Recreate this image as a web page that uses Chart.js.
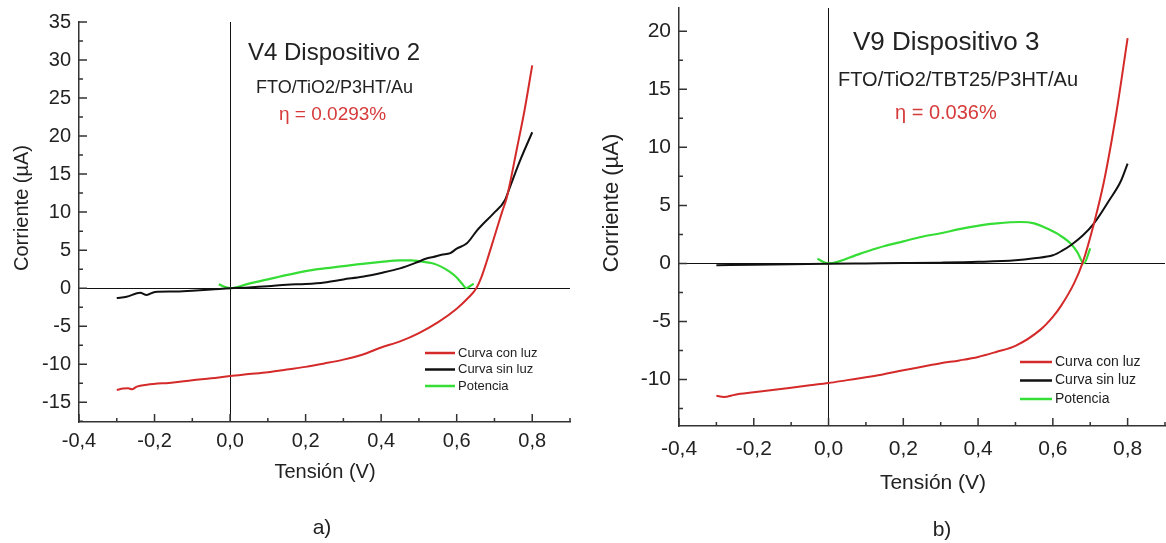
<!DOCTYPE html>
<html><head><meta charset="utf-8">
<script src="https://cdn.jsdelivr.net/npm/chart.js@4.4.1/dist/chart.umd.min.js"></script>
<style>
html,body{margin:0;padding:0;background:#fff;width:1166px;height:543px;overflow:hidden}
canvas{position:absolute;top:0}
</style></head><body>
<canvas id="ca" width="583" height="543" style="left:0"></canvas>
<canvas id="cb" width="583" height="543" style="left:583px"></canvas>
<script>
// ---------- DATA ----------
const seriesNames = ['Curva con luz', 'Curva sin luz', 'Potencia'];

// Panel a) V4 Dispositivo 2
const aLuzV = [-0.30,-0.283,-0.27,-0.26,-0.247,-0.22,-0.15,-0.10,-0.05,0.00,0.05,0.10,0.15,0.20,0.25,0.30,0.35,0.40,0.45,0.50,0.55,0.60,0.63,0.652,0.665,0.68,0.70,0.72,0.733,0.76,0.78,0.80];
const aLuzI = [-13.4,-13.2,-13.15,-13.3,-12.95,-12.7,-12.4,-12.1,-11.85,-11.55,-11.3,-11.05,-10.7,-10.35,-9.9,-9.4,-8.75,-7.8,-7.0,-5.9,-4.5,-2.7,-1.3,0.0,1.4,3.6,6.8,10.0,12.0,18.5,23.5,29.3];
const aSinV = [-0.30,-0.274,-0.238,-0.221,-0.199,-0.15,-0.10,-0.05,0.00,0.05,0.10,0.15,0.20,0.25,0.30,0.35,0.40,0.45,0.495,0.52,0.538,0.56,0.583,0.60,0.627,0.654,0.667,0.697,0.728,0.741,0.768,0.80];
const aSinI = [-1.3,-1.14,-0.6,-0.9,-0.5,-0.45,-0.33,-0.18,0.0,0.1,0.25,0.45,0.55,0.75,1.15,1.5,2.0,2.6,3.4,3.9,4.1,4.4,4.6,5.2,5.9,7.6,8.3,9.8,11.6,13.3,16.8,20.5];
const aPotV = [-0.03,0.00,0.05,0.10,0.13,0.20,0.25,0.30,0.35,0.40,0.45,0.48,0.50,0.538,0.56,0.583,0.60,0.614,0.625,0.645];
const aPotP = [0.5,0.0,0.6,1.15,1.5,2.25,2.6,2.9,3.2,3.45,3.65,3.65,3.55,3.25,2.8,2.1,1.4,0.6,0.0,0.6];

// Panel b) V9 Dispositivo 3
const bLuzV = [-0.30,-0.28,-0.25,-0.20,-0.15,-0.10,-0.05,0.00,0.05,0.10,0.138,0.20,0.25,0.30,0.35,0.40,0.45,0.50,0.567,0.60,0.621,0.657,0.679,0.71,0.737,0.77,0.80];
const bLuzI = [-11.4,-11.5,-11.3,-11.1,-10.9,-10.7,-10.5,-10.3,-10.05,-9.8,-9.6,-9.2,-8.9,-8.6,-8.35,-8.05,-7.6,-7.1,-5.7,-4.6,-3.7,-1.7,0.0,3.45,7.1,13.0,19.4];
const bSinV = [-0.30,-0.20,-0.10,0.00,0.10,0.20,0.30,0.40,0.50,0.55,0.60,0.625,0.648,0.68,0.71,0.75,0.782,0.80];
const bSinI = [-0.15,-0.12,-0.08,-0.03,0.0,0.03,0.07,0.14,0.28,0.45,0.7,1.1,1.57,2.4,3.45,5.4,7.1,8.6];
const bPotV = [-0.03,0.00,0.085,0.15,0.20,0.25,0.30,0.35,0.406,0.45,0.514,0.55,0.585,0.62,0.648,0.665,0.683,0.70];
const bPotP = [0.4,0.0,0.85,1.5,1.9,2.3,2.6,2.95,3.28,3.45,3.57,3.45,3.0,2.4,1.7,1.0,0.0,1.3];

const panelA = {title:'V4 Dispositivo 2', stack:'FTO/TiO2/P3HT/Au', eff:'η = 0.0293%', tag:'a)'};
const panelB = {title:'V9 Dispositivo 3', stack:'FTO/TiO2/TBT25/P3HT/Au', eff:'η = 0.036%', tag:'b)'};
const xTitle = 'Tensión (V)';
const yTitle = 'Corriente (µA)';

// ---------- STYLE ----------
const COL = {luz:'#d42a2a', sin:'#111111', pot:'#35dd35', axis:'#333333', text:'#222222', eff:'#d63a3a'};
const FONT = '"Liberation Sans", Arial, sans-serif';
Chart.defaults.font.family = FONT;
Chart.defaults.color = COL.text;

function pts(V, I){ return V.map((v,i)=>({x:v, y:I[i]})); }

const innerTicks = {
  id:'innerTicks',
  afterDatasetsDraw(chart){
    const {ctx, chartArea:a, scales:{x,y}} = chart;
    ctx.save(); ctx.strokeStyle = COL.axis; ctx.lineWidth = 1.5; ctx.beginPath();
    const doAxis = (sc, horiz) => {
      const v = sc.ticks.map(t=>t.value); const step = v[1]-v[0];
      v.forEach(val => { const p = sc.getPixelForValue(val);
        if (horiz){ ctx.moveTo(p, a.bottom); ctx.lineTo(p, a.bottom-8); }
        else { ctx.moveTo(a.left, p); ctx.lineTo(a.left+8, p); } });
      for (let k=-1; k<v.length; k++){
        const m = v[0] + (k+0.5)*step;
        if (m < sc.min-1e-9 || m > sc.max+1e-9) continue;
        const p = sc.getPixelForValue(m);
        if (horiz){ ctx.moveTo(p, a.bottom); ctx.lineTo(p, a.bottom-4); }
        else { ctx.moveTo(a.left, p); ctx.lineTo(a.left+4, p); }
      }
    };
    doAxis(x, true); doAxis(y, false);
    ctx.stroke(); ctx.restore();
  }
};

const overlayText = {
  id:'overlayText',
  afterDraw(chart, args, o){
    const ctx = chart.ctx; ctx.save();
    ctx.textBaseline = 'middle'; ctx.textAlign = 'left';
    ctx.fillStyle = COL.text;
    ctx.font = o.hSize+'px '+FONT; ctx.fillText(o.panel.title, o.hX, o.hY);
    ctx.font = o.sSize+'px '+FONT; ctx.fillText(o.panel.stack, o.sX, o.sY);
    ctx.fillStyle = COL.eff;
    ctx.font = o.eSize+'px '+FONT; ctx.fillText(o.panel.eff, o.eX, o.eY);
    ctx.font = o.lSize+'px '+FONT;
    chart.data.datasets.forEach((ds,i)=>{
      const yy = o.lY + i*o.lGap;
      ctx.strokeStyle = ds.borderColor; ctx.lineWidth = 2.5;
      ctx.beginPath(); ctx.moveTo(o.lX0, yy); ctx.lineTo(o.lX1, yy); ctx.stroke();
      ctx.fillStyle = COL.text; ctx.fillText(ds.label, o.lX1+3, yy);
    });
    ctx.fillStyle = COL.text; ctx.textAlign = 'center';
    ctx.font = o.tSize+'px '+FONT; ctx.fillText(xTitle, o.xtX, o.xtY);
    ctx.font = o.tag.size+'px '+FONT; ctx.fillText(o.panel.tag, o.tag.x, o.tag.y);
    ctx.save(); ctx.translate(o.ytX, o.ytY); ctx.rotate(-Math.PI/2);
    ctx.font = o.ytSize+'px '+FONT; ctx.fillText(yTitle, 0, 0); ctx.restore();
    ctx.restore();
  }
};

function makeChart(id, series, ax, geo, txt){
  const zeroGrid = (c) => (c.tick && Math.abs(c.tick.value) < 1e-9) ? '#111' : 'rgba(0,0,0,0)';
  const common = {pointRadius:0, cubicInterpolationMode:'monotone'};
  return new Chart(document.getElementById(id), {
    type:'line',
    data:{datasets:[
      Object.assign({label:seriesNames[0], data:series[0], borderColor:COL.luz, borderWidth:2}, common),
      Object.assign({label:seriesNames[1], data:series[1], borderColor:COL.sin, borderWidth:2}, common),
      Object.assign({label:seriesNames[2], data:series[2], borderColor:COL.pot, borderWidth:2.2}, common)
    ]},
    options:{
      responsive:false, animation:false, devicePixelRatio:1,
      layout:{padding:{left:0, right:geo.W-geo.R, top:geo.T, bottom:0}},
      plugins:{legend:{display:false}, tooltip:{enabled:false}, overlayText:txt},
      scales:{
        x:{type:'linear', min:ax.xMin, max:ax.xMax,
           ticks:{stepSize:0.2, includeBounds:false, padding:geo.xPad, color:COL.text,
                  font:{size:geo.tick}, maxRotation:0,
                  callback:(v)=>v.toFixed(1).replace('.', ',')},
           grid:{drawTicks:false, color:zeroGrid, lineWidth:1},
           border:{display:true, color:COL.axis, width:1.5},
           afterFit:(s)=>{ s.height = geo.H - geo.B; s.paddingLeft = 0; s.paddingRight = 0; }},
        y:{type:'linear', min:ax.yMin, max:ax.yMax,
           ticks:{stepSize:5, includeBounds:false, padding:8, color:COL.text, font:{size:geo.tick}},
           grid:{drawTicks:false, color:zeroGrid, lineWidth:1},
           border:{display:true, color:COL.axis, width:1.5},
           afterFit:(s)=>{ s.width = geo.L; s.paddingTop = 0; s.paddingBottom = 0; }}
      }
    },
    plugins:[innerTicks, overlayText]
  });
}

makeChart('ca',
  [pts(aLuzV,aLuzI), pts(aSinV,aSinI), pts(aPotV,aPotP)],
  {xMin:-0.4, xMax:0.9, yMin:-17.6, yMax:35},
  {W:583, H:543, L:79, R:570, T:22, B:422, xPad:7, tick:20},
  {panel:panelA, hSize:24, hX:248, hY:53, sSize:18, sX:256, sY:88, eSize:19, eX:279, eY:115,
   lSize:13, lX0:425, lX1:455, lY:353, lGap:16.5,
   tSize:20, xtX:325, xtY:472, ytSize:20, ytX:22, ytY:208, tag:{size:21, x:322, y:528}});

makeChart('cb',
  [pts(bLuzV,bLuzI), pts(bSinV,bSinI), pts(bPotV,bPotP)],
  {xMin:-0.4, xMax:0.9, yMin:-14, yMax:22},
  {W:583, H:543, L:96, R:582, T:8, B:426, xPad:11, tick:21},
  {panel:panelB, hSize:26, hX:270, hY:43, sSize:20, sX:255, sY:80, eSize:20, eX:312, eY:113,
   lSize:14, lX0:437, lX1:469, lY:362, lGap:18.5,
   tSize:21, xtX:350, xtY:483, ytSize:22, ytX:29, ytY:203, tag:{size:21, x:359, y:530}});
</script>
</body></html>
